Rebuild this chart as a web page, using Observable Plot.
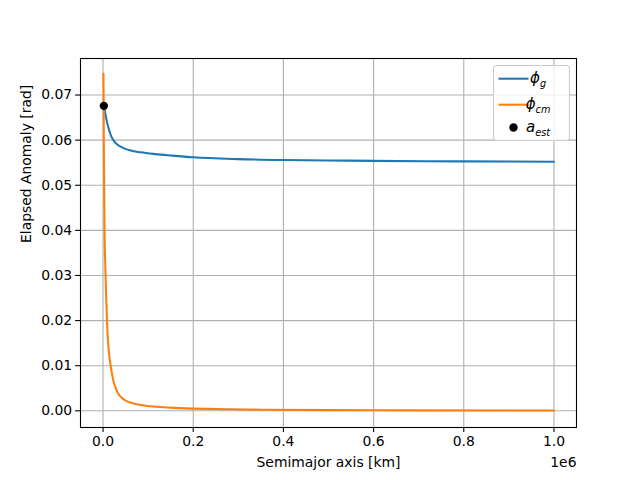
<!DOCTYPE html>
<html>
<head>
<meta charset="utf-8">
<script src="https://cdn.jsdelivr.net/npm/d3@7"></script>
<script src="https://cdn.jsdelivr.net/npm/@observablehq/plot@0.6"></script>
<style>
  html, body { margin: 0; padding: 0; background: white; }
</style>
</head>
<body>
<div id="chart"></div>
<script>
// Semimajor axis [km] and elapsed anomaly [rad]
const aG = [1000, 1800, 3500, 5600, 8500, 12900, 18000, 27800, 40000, 57300, 83300, 116700, 150000, 200000, 300000, 400000, 500000, 600000, 800000, 1000000];
const phiG = [0.0684, 0.0676, 0.0667, 0.0656, 0.0641, 0.0624, 0.0609, 0.0594, 0.0585, 0.0578, 0.0573, 0.0569, 0.0566, 0.0562, 0.0558, 0.0556, 0.0555, 0.0554, 0.0553, 0.0552];

const aCM = [1000, 1800, 3300, 5000, 7100, 9300, 12500, 16700, 22600, 31500, 46300, 68500, 105600, 172000, 250000, 350000, 500000, 700000, 1000000];
const phiCM = [0.0747, 0.0580, 0.0400, 0.0320, 0.0250, 0.0185, 0.0135, 0.0101, 0.0068, 0.0042, 0.0025, 0.0016, 0.0010, 0.0006, 0.0004, 0.00025, 0.00015, 0.0001, 0.00006];

const aEst = [1800];
const phiEst = [0.0676];

const xTicks = [0, 200000, 400000, 600000, 800000, 1000000];
const yTicks = [0.00, 0.01, 0.02, 0.03, 0.04, 0.05, 0.06, 0.07];

const seriesG = aG.map((a, i) => ({a, v: phiG[i]}));
const seriesCM = aCM.map((a, i) => ({a, v: phiCM[i]}));
const est = aEst.map((a, i) => ({a, v: phiEst[i]}));

const plot = Plot.plot({
  width: 640,
  height: 480,
  marginLeft: 80,
  marginRight: 64,
  marginTop: 58,
  marginBottom: 53,
  style: {fontFamily: "DejaVu Sans", fontSize: "13.9px", color: "black", background: "white", overflow: "visible"},
  x: {domain: [-50000, 1050000]},
  y: {domain: [-0.0037, 0.0781]},
  marks: [
    Plot.gridX(xTicks, {stroke: "#b0b0b0", strokeOpacity: 1, strokeWidth: 1.1}),
    Plot.gridY(yTicks, {stroke: "#b0b0b0", strokeOpacity: 1, strokeWidth: 1.1}),
    Plot.line(seriesG, {x: "a", y: "v", stroke: "#1f77b4", strokeWidth: 2.08, curve: "monotone-x"}),
    Plot.line(seriesCM, {x: "a", y: "v", stroke: "#ff7f0e", strokeWidth: 2.08, curve: "monotone-x"}),
    Plot.dot(est, {x: "a", y: "v", r: 4.2, fill: "black", stroke: "none"}),
    Plot.frame({stroke: "black", strokeWidth: 1.1}),
    Plot.axisX({ticks: xTicks, tickFormat: d => (d / 1e6).toFixed(1), tickSize: 4.9, tickPadding: 3.5, label: null, strokeWidth: 1.1}),
    Plot.axisY({ticks: yTicks, tickFormat: d => d.toFixed(2), tickSize: 4.9, tickPadding: 3.5, label: null, strokeWidth: 1.1}),
    Plot.text(["Semimajor axis [km]"], {frameAnchor: "bottom", dy: 35, lineAnchor: "middle", fill: "black"}),
    Plot.text(["1e6"], {frameAnchor: "bottom-right", dy: 35, textAnchor: "end", lineAnchor: "middle", fill: "black"}),
    Plot.text(["Elapsed Anomaly [rad]"], {frameAnchor: "left", dx: -54, rotate: -90, lineAnchor: "middle", fill: "black"})
  ]
});

document.getElementById("chart").appendChild(plot);

// Legend (upper right), matplotlib-style
const svg = d3.select(plot.tagName.toLowerCase() === "svg" ? plot : plot.querySelector("svg"));
const lg = svg.append("g").attr("font-family", "DejaVu Sans").attr("font-size", 13.9);
lg.append("rect").attr("x", 493.5).attr("y", 65.5).attr("width", 76).attr("height", 75)
  .attr("rx", 3).attr("fill", "white").attr("fill-opacity", 0.8).attr("stroke", "#cccccc").attr("stroke-width", 1.1);
const entries = [
  {kind: "line", color: "#1f77b4", base: "\u03d5", sub: "g", y: 78.7},
  {kind: "line", color: "#ff7f0e", base: "\u03d5", sub: "cm", y: 104.7},
  {kind: "dot", color: "black", base: "a", sub: "est", y: 127.5}
];
entries.forEach(e => {
  if (e.kind === "line") {
    lg.append("line").attr("x1", 498.5).attr("x2", 528.5).attr("y1", e.y).attr("y2", e.y)
      .attr("stroke", e.color).attr("stroke-width", 2.08);
  } else {
    lg.append("circle").attr("cx", 513.5).attr("cy", e.y).attr("r", 4.2).attr("fill", e.color);
  }
  const t = lg.append("text").attr("x", 538).attr("y", e.y + 4.5).attr("font-style", "italic").attr("fill", "black");
  t.append("tspan").attr("font-size", 15).text(e.base);
  t.append("tspan").attr("dy", 3.5).attr("font-size", 9.7).text(e.sub);
});
</script>
</body>
</html>
